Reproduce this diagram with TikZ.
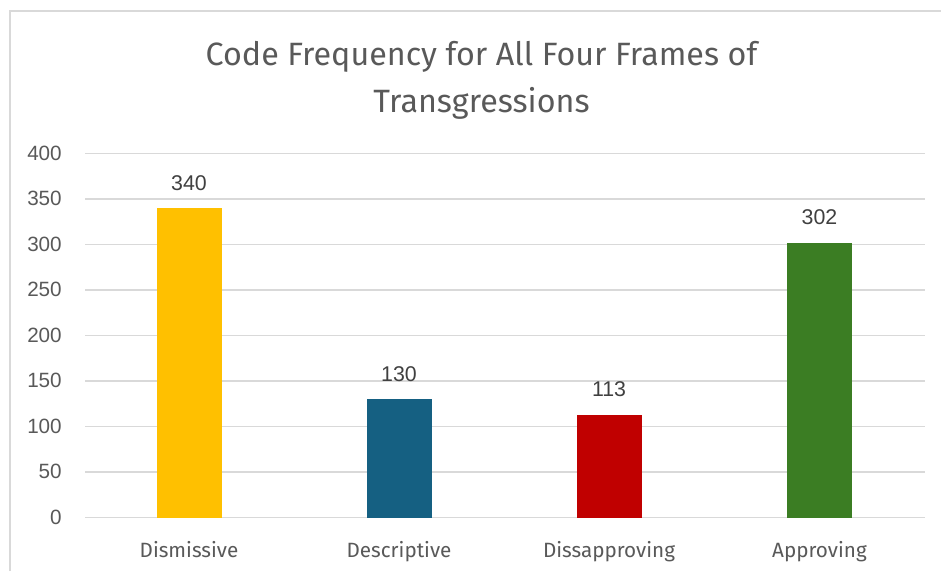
\documentclass[tikz,border=0pt]{standalone}
\usepackage{fontspec}
\setmainfont{Liberation Sans}
\newfontfamily\titlefont{Fira Sans}
\definecolor{gridgray}{HTML}{D9D9D9}
\definecolor{txtgray}{HTML}{595959}
\definecolor{lblgray}{HTML}{404040}
\definecolor{cyellow}{HTML}{FFC000}
\definecolor{cblue}{HTML}{156082}
\definecolor{cred}{HTML}{C00000}
\definecolor{cgreen}{HTML}{3B7D23}
\begin{document}
\begin{tikzpicture}[x=0.75pt,y=-0.75pt,
  gridline/.style={draw=gridgray,line width=1.1pt},
  ticklbl/.style={anchor=base east,text=txtgray,font=\fontsize{15.5}{18}\selectfont,inner sep=0pt},
  vallbl/.style={anchor=base,text=lblgray,font=\fontsize{16}{19}\selectfont,inner sep=0pt},
  catlbl/.style={anchor=base,text=txtgray,font=\titlefont\fontsize{15.5}{18}\selectfont,inner sep=0pt},
  titlelbl/.style={anchor=base,text=txtgray,font=\titlefont\fontsize{24.2}{28}\selectfont,inner sep=0pt}]
\useasboundingbox (0,0) rectangle (941,571);
\fill[white] (0,0) rectangle (941,571);
% chart border
\draw[gridgray,line width=1.1pt] (10,571) -- (10,11) -- (941,11);
% title
\node[titlelbl] (t1) at (481.5,65) {Code Frequency for All Four Frames of};
\node[titlelbl] (t2) at (481.5,112) {Transgressions};
% gridlines and tick labels
\foreach \v in {0,50,...,400}{
  \draw[gridline] (85,{517.5-\v*0.91}) -- (925,{517.5-\v*0.91});
  \node[ticklbl] at (62,{517.5-\v*0.91+6.5}) {\v};
}
% bars
\foreach \c/\v/\col/\nm in {189/340/cyellow/Dismissive,399/130/cblue/Descriptive,609/113/cred/Dissapproving,819.5/302/cgreen/Approving}{
  \fill[\col] ({\c-32.5},{517.5-\v*0.91}) rectangle ({\c+32.5},517.5);
  \node[vallbl] at (\c,{517.5-\v*0.91-18}) {\v};
  \node[catlbl] at (\c,557) {\nm};
}
\end{tikzpicture}
\end{document}
